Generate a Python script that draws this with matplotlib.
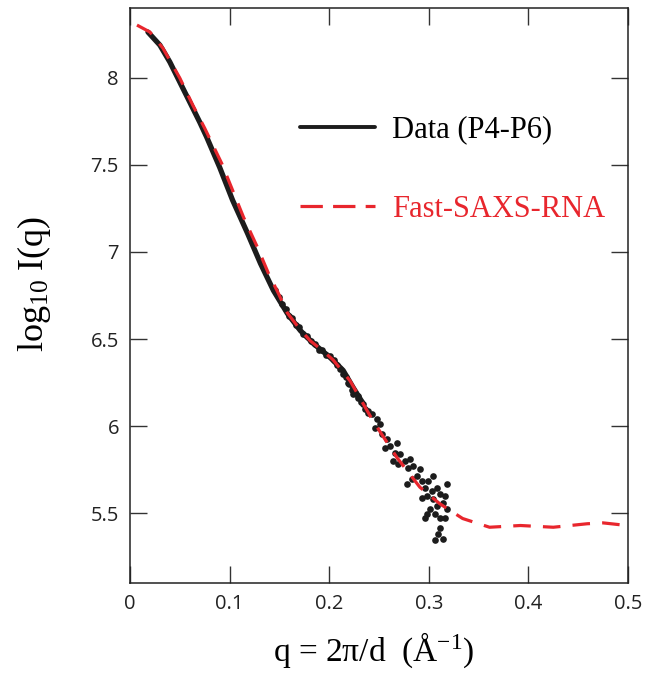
import matplotlib
matplotlib.use("Agg")
import matplotlib.pyplot as plt
from matplotlib.ticker import FixedLocator, FixedFormatter

plt.rcParams["mathtext.fontset"] = "custom"
plt.rcParams["mathtext.rm"] = "Liberation Serif"
plt.rcParams["mathtext.it"] = "Liberation Serif:italic"
plt.rcParams["mathtext.default"] = "rm"

# Fast-SAXS-RNA prediction (red dashed)
q_model = [0.007, 0.020, 0.033, 0.050, 0.063, 0.075, 0.092, 0.103, 0.114, 0.128, 0.139,
           0.149, 0.158, 0.170, 0.181, 0.193, 0.204, 0.221, 0.244, 0.268, 0.291, 0.311,
           0.334, 0.361, 0.392, 0.425, 0.459, 0.475, 0.499]
I_model = [8.302, 8.262, 8.170, 7.998, 7.843, 7.710, 7.509, 7.354, 7.199, 7.026, 6.877,
           6.762, 6.650, 6.560, 6.490, 6.435, 6.380, 6.260, 6.030, 5.820, 5.650, 5.555,
           5.470, 5.420, 5.430, 5.420, 5.440, 5.445, 5.430]

# Experimental data (P4-P6), continuous low-q part
q_data = [0.018, 0.030, 0.040, 0.050, 0.060, 0.070, 0.077, 0.090, 0.103, 0.118, 0.131,
          0.144, 0.158, 0.171, 0.184, 0.201, 0.214, 0.224, 0.234]
I_data = [8.262, 8.187, 8.090, 7.975, 7.860, 7.745, 7.659, 7.486, 7.297, 7.107, 6.934,
          6.779, 6.647, 6.549, 6.475, 6.394, 6.320, 6.222, 6.130]

# Experimental data (P4-P6), individual noisy points
q_pts = [0.146, 0.150, 0.153, 0.157, 0.160, 0.163, 0.167, 0.170, 0.174, 0.178, 0.182,
         0.186, 0.190, 0.193, 0.197, 0.201, 0.205, 0.208, 0.211, 0.214, 0.217, 0.220,
         0.223, 0.226, 0.229, 0.232, 0.236, 0.239,
         0.2189, 0.2239, 0.2289, 0.2339, 0.2390, 0.2430, 0.2480, 0.2460, 0.2510, 0.2530,
         0.2580, 0.2560, 0.2610, 0.2681, 0.2661, 0.2711, 0.2641, 0.2691, 0.2761, 0.2811,
         0.2791, 0.2841, 0.2912, 0.2882, 0.2781, 0.2831, 0.2932, 0.2992, 0.3042, 0.2962,
         0.3032, 0.3082, 0.3183, 0.3112, 0.2932, 0.2982, 0.3042, 0.3163, 0.3143, 0.3082,
         0.3012, 0.3183, 0.2982, 0.3062, 0.3112, 0.3163, 0.2962, 0.3112, 0.3092, 0.3062,
         0.3143]
I_pts = [6.780, 6.740, 6.700, 6.670, 6.630, 6.620, 6.580, 6.570, 6.530, 6.520, 6.490,
         6.470, 6.440, 6.440, 6.410, 6.400, 6.380, 6.350, 6.330, 6.300, 6.280, 6.240,
         6.210, 6.190, 6.160, 6.140, 6.100, 6.090,
         6.245, 6.187, 6.176, 6.130, 6.078, 6.072, 6.044, 5.992, 6.015, 5.957,
         5.929, 5.877, 5.889, 5.906, 5.848, 5.843, 5.802, 5.785, 5.802, 5.814,
         5.762, 5.774, 5.756, 5.716, 5.670, 5.699, 5.687, 5.687, 5.716, 5.647,
         5.630, 5.647, 5.670, 5.613, 5.590, 5.601, 5.584, 5.601, 5.561, 5.544,
         5.526, 5.526, 5.498, 5.498, 5.475, 5.475, 5.475, 5.417, 5.383, 5.348,
         5.354]

x_ticks = [0, 0.1, 0.2, 0.3, 0.4, 0.5]
x_labels = ["0", "0.1", "0.2", "0.3", "0.4", "0.5"]
y_ticks = [5.5, 6, 6.5, 7, 7.5, 8]
y_labels = ["5.5", "6", "6.5", "7", "7.5", "8"]

fig = plt.figure(figsize=(6.49, 6.79), dpi=100)
ax = fig.add_axes([130/649, 1-583/679, (628-130)/649, (583-8)/679])

red = "#e8262d"
dark = "#1c1c1c"
ax.plot(q_data, I_data, color=dark, lw=3.8, solid_capstyle="round",
        solid_joinstyle="round", label="Data (P4-P6)", zorder=2)
ax.plot(q_pts, I_pts, linestyle="none", marker="o", ms=4.8, mew=0, color=dark, zorder=2)
ax.plot(q_model, I_model, color=red, lw=2.3, dashes=(5.5, 3.8), label="Fast-SAXS-RNA", zorder=3)

ax.set_xlim(0, 0.5)
ax.set_ylim(5.1, 8.4)
ax.xaxis.set_major_locator(FixedLocator(x_ticks))
ax.xaxis.set_major_formatter(FixedFormatter(x_labels))
ax.yaxis.set_major_locator(FixedLocator(y_ticks))
ax.yaxis.set_major_formatter(FixedFormatter(y_labels))
ax.tick_params(direction="in", length=12.5, width=1.0, color="#333333",
               top=True, right=True, labelsize=14.5, pad=8)
for lab in ax.get_xticklabels() + ax.get_yticklabels():
    lab.set_family("Open Sans")
    lab.set_color("#222222")
for s in ax.spines.values():
    s.set_linewidth(1.1)
    s.set_color("#222222")

ax.set_xlabel("q = 2π/d  (Å$^{-1}$)", family="Liberation Serif", fontsize=24)
ax.xaxis.set_label_coords(0.49, -0.083)
ax.set_ylabel("log$_{10}$ I(q)", family="Liberation Serif", fontsize=26)
ax.yaxis.set_label_coords(-0.155, 0.52)

leg = ax.legend(loc="upper left", bbox_to_anchor=(0.311, 0.840), frameon=False,
                prop={"family": "Liberation Serif", "size": 22}, handlelength=2.45,
                handletextpad=0.55, labelspacing=1.65, borderpad=0)
leg.get_texts()[1].set_color(red)
leg.get_lines()[0].set_linewidth(2.8)
leg.get_lines()[1].set_dashes((7, 3.2))

fig.savefig("out.png", dpi=100)
